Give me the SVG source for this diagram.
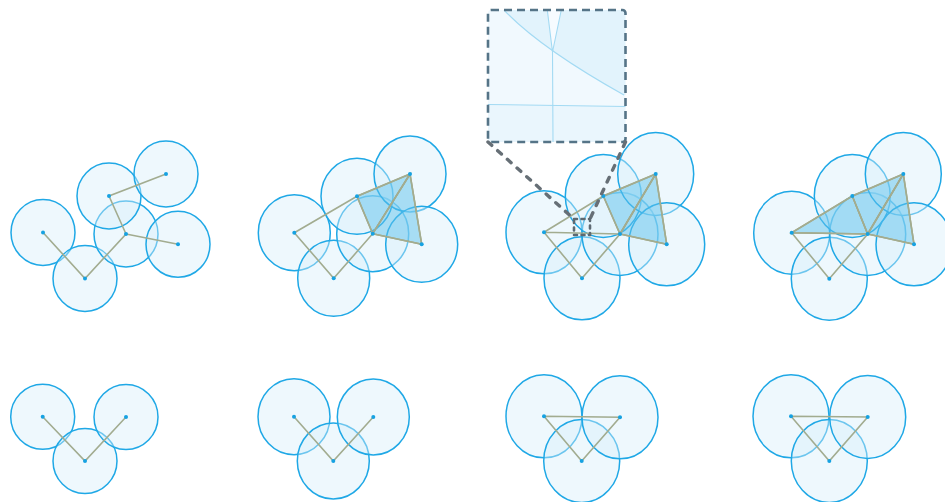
<svg xmlns="http://www.w3.org/2000/svg" width="945" height="502" viewBox="0 0 945 502">
<style>
.c{fill:#d6eefb;fill-opacity:0.42;stroke:#1fa8e6;stroke-width:1.5}
.e{stroke:#a2ac90;stroke-width:1.6;fill:none}
.t{fill:#5fc2ec;fill-opacity:0.5;stroke:#a6a77e;stroke-width:1.5}
.d{fill:#16a2e2}
.dash{fill:none;stroke:#557487;stroke-width:2.6;stroke-dasharray:8 5}
.dl{fill:none;stroke:#666f76;stroke-width:3.4;stroke-dasharray:5 8;stroke-linecap:round}
.il{fill:none;stroke:#a3daf3;stroke-width:1.1}
</style>
<defs>
<clipPath id="inclip"><rect x="488" y="10" width="137.5" height="132" rx="3"/></clipPath>
</defs>
<rect width="945" height="502" fill="#ffffff"/>

<!-- Panel 1 top -->
<g id="p1-top">
<g id="p1t-A"><ellipse class="c" cx="43" cy="232.5" rx="32" ry="33"/></g>
<g id="p1t-B"><ellipse class="c" cx="85" cy="278.5" rx="32" ry="33"/></g>
<g id="p1t-C"><ellipse class="c" cx="126" cy="234" rx="32" ry="33"/></g>
<g id="p1t-D"><ellipse class="c" cx="109" cy="196" rx="32" ry="33"/></g>
<g id="p1t-E"><ellipse class="c" cx="166" cy="174" rx="32" ry="33"/></g>
<g id="p1t-F"><ellipse class="c" cx="178" cy="244.3" rx="32" ry="33"/></g>
</g>
<!-- Panel 2 top -->
<g id="p2-top">
<g id="p2t-A"><ellipse class="c" cx="294.3" cy="232.7" rx="36" ry="38"/></g>
<g id="p2t-B"><ellipse class="c" cx="333.7" cy="278.3" rx="36" ry="38"/></g>
<g id="p2t-C"><ellipse class="c" cx="372.7" cy="233.7" rx="36" ry="38"/></g>
<g id="p2t-D"><ellipse class="c" cx="357" cy="196.3" rx="36" ry="38"/></g>
<g id="p2t-E"><ellipse class="c" cx="410" cy="174" rx="36" ry="38"/></g>
<g id="p2t-F"><ellipse class="c" cx="421.7" cy="244.3" rx="36" ry="38"/></g>
</g>
<!-- Panel 3 top -->
<g id="p3-top">
<g id="p3t-A"><ellipse class="c" cx="544" cy="232.3" rx="38" ry="41.5"/></g>
<g id="p3t-B"><ellipse class="c" cx="582" cy="278.3" rx="38" ry="41.5"/></g>
<g id="p3t-C"><ellipse class="c" cx="620" cy="234" rx="38" ry="41.5"/></g>
<g id="p3t-D"><ellipse class="c" cx="603.3" cy="196" rx="38" ry="41.5"/></g>
<g id="p3t-E"><ellipse class="c" cx="655.7" cy="174" rx="38" ry="41.5"/></g>
<g id="p3t-F"><ellipse class="c" cx="666.7" cy="244.3" rx="38" ry="41.5"/></g>
</g>
<!-- Panel 4 top -->
<g id="p4-top">
<g id="p4t-A"><ellipse class="c" cx="791.7" cy="232.7" rx="38" ry="41.5"/></g>
<g id="p4t-B"><ellipse class="c" cx="829.3" cy="278.7" rx="38" ry="41.5"/></g>
<g id="p4t-C"><ellipse class="c" cx="867.7" cy="234" rx="38" ry="41.5"/></g>
<g id="p4t-D"><ellipse class="c" cx="852.3" cy="196" rx="38" ry="41.5"/></g>
<g id="p4t-E"><ellipse class="c" cx="903.3" cy="174" rx="38" ry="41.5"/></g>
<g id="p4t-F"><ellipse class="c" cx="914" cy="244.3" rx="38" ry="41.5"/></g>
</g>
<!-- Bottom row -->
<g id="p1-bot">
<g id="p1b-A"><ellipse class="c" cx="42.7" cy="416.7" rx="32" ry="32.5"/></g>
<g id="p1b-B"><ellipse class="c" cx="85" cy="461" rx="32" ry="32.5"/></g>
<g id="p1b-C"><ellipse class="c" cx="126" cy="417" rx="32" ry="32.5"/></g>
</g>
<g id="p2-bot">
<g id="p2b-A"><ellipse class="c" cx="294" cy="416.7" rx="36" ry="38"/></g>
<g id="p2b-B"><ellipse class="c" cx="333.3" cy="461" rx="36" ry="38"/></g>
<g id="p2b-C"><ellipse class="c" cx="373.3" cy="417" rx="36" ry="38"/></g>
</g>
<g id="p3-bot">
<g id="p3b-A"><ellipse class="c" cx="544" cy="416.3" rx="38" ry="41.5"/></g>
<g id="p3b-B"><ellipse class="c" cx="581.7" cy="461" rx="38" ry="41.5"/></g>
<g id="p3b-C"><ellipse class="c" cx="620" cy="417.3" rx="38" ry="41.5"/></g>
</g>
<g id="p4-bot">
<g id="p4b-A"><ellipse class="c" cx="791" cy="416.3" rx="38" ry="41.5"/></g>
<g id="p4b-B"><ellipse class="c" cx="829.3" cy="461" rx="38" ry="41.5"/></g>
<g id="p4b-C"><ellipse class="c" cx="867.7" cy="417" rx="38" ry="41.5"/></g>
</g>

<!-- Filled triangles -->
<g id="triangles">
<polygon class="t" points="357,196.3 410,174 372.7,233.7"/>
<polygon class="t" points="372.7,233.7 410,174 421.7,244.3"/>
<polygon class="t" points="603.3,196 655.7,174 620,234"/>
<polygon class="t" points="620,234 655.7,174 666.7,244.3"/>
<polygon class="t" points="791.7,232.7 852.3,196 867.7,234"/>
<polygon class="t" points="852.3,196 903.3,174 867.7,234"/>
<polygon class="t" points="867.7,234 903.3,174 914,244.3"/>
</g>

<!-- Connectors -->
<g id="connectors">
<path class="e" d="M43,232.5L85,278.5L126,234L109,196L166,174M126,234L178,244.3"/>
<path class="e" d="M294.3,232.7L333.7,278.3L372.7,233.7L357,196.3L410,174L421.7,244.3L372.7,233.7L410,174M294.3,232.7L357,196.3"/>
<path class="e" d="M544,232.3L582,278.3L620,234L603.3,196L655.7,174L666.7,244.3L620,234L655.7,174M544,232.3L603.3,196M544,232.3L620,234"/>
<path class="e" d="M791.7,232.7L829.3,278.7L867.7,234L852.3,196L903.3,174L914,244.3L867.7,234L903.3,174M791.7,232.7L852.3,196M791.7,232.7L867.7,234"/>
<path class="e" d="M42.7,416.7L85,461L126,417"/>
<path class="e" d="M294,416.7L333.3,461L373.3,417"/>
<path class="e" d="M544,416.3L581.7,461L620,417.3L544,416.3"/>
<path class="e" d="M791,416.3L829.3,461L867.7,417L791,416.3"/>
</g>

<!-- Centre dots -->
<g id="centers">
<circle class="d" cx="43" cy="232.5" r="2"/><circle class="d" cx="85" cy="278.5" r="2"/><circle class="d" cx="126" cy="234" r="2"/><circle class="d" cx="109" cy="196" r="2"/><circle class="d" cx="166" cy="174" r="2"/><circle class="d" cx="178" cy="244.3" r="2"/>
<circle class="d" cx="294.3" cy="232.7" r="2"/><circle class="d" cx="333.7" cy="278.3" r="2"/><circle class="d" cx="372.7" cy="233.7" r="2"/><circle class="d" cx="357" cy="196.3" r="2"/><circle class="d" cx="410" cy="174" r="2"/><circle class="d" cx="421.7" cy="244.3" r="2"/>
<circle class="d" cx="544" cy="232.3" r="2"/><circle class="d" cx="582" cy="278.3" r="2"/><circle class="d" cx="620" cy="234" r="2"/><circle class="d" cx="603.3" cy="196" r="2"/><circle class="d" cx="655.7" cy="174" r="2"/><circle class="d" cx="666.7" cy="244.3" r="2"/>
<circle class="d" cx="791.7" cy="232.7" r="2"/><circle class="d" cx="829.3" cy="278.7" r="2"/><circle class="d" cx="867.7" cy="234" r="2"/><circle class="d" cx="852.3" cy="196" r="2"/><circle class="d" cx="903.3" cy="174" r="2"/><circle class="d" cx="914" cy="244.3" r="2"/>
<circle class="d" cx="42.7" cy="416.7" r="2"/><circle class="d" cx="85" cy="461" r="2"/><circle class="d" cx="126" cy="417" r="2"/>
<circle class="d" cx="294" cy="416.7" r="2"/><circle class="d" cx="333.3" cy="461" r="2"/><circle class="d" cx="373.3" cy="417" r="2"/>
<circle class="d" cx="544" cy="416.3" r="2"/><circle class="d" cx="581.7" cy="461" r="2"/><circle class="d" cx="620" cy="417.3" r="2"/>
<circle class="d" cx="791" cy="416.3" r="2"/><circle class="d" cx="829.3" cy="461" r="2"/><circle class="d" cx="867.7" cy="417" r="2"/>
</g>

<!-- Zoom inset -->
<g id="inset">
<g clip-path="url(#inclip)">
<rect x="488" y="10" width="137.5" height="132" fill="#f1f9fe"/>
<path d="M488,104.5L626,106.5L626,142L488,142Z" fill="#eaf6fd"/>
<path d="M504,10Q540,48 624,95L626,95L626,10Z" fill="#e2f3fc"/>
<polygon points="547.3,10 561.3,10 552.5,52" fill="#f6fbff"/>
<path class="il" d="M504,10Q540,48 624,95"/>
<path class="il" d="M547.3,10L552.5,52L553,142M561.3,10L552.5,52"/>
<path class="il" d="M488,104.5L626,106.5"/>
</g>
<rect class="dash" x="488" y="10" width="137.5" height="132" rx="3"/>
</g>
<g id="inset-connectors">
<path class="dl" d="M488,142L574,219M625.5,142L590,219"/>
<rect x="574" y="219" width="16" height="16" fill="none" stroke="#5d6972" stroke-width="2.6" stroke-dasharray="3 4.5" stroke-linecap="round"/>
</g>
</svg>
